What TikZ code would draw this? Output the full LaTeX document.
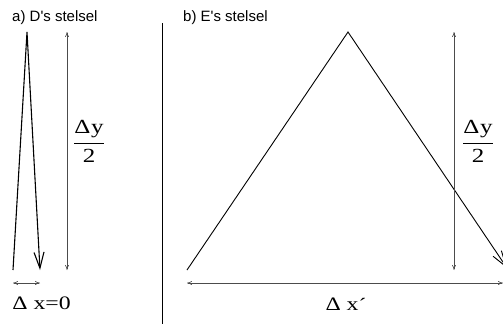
\documentclass[tikz,border=0pt]{standalone}
\usepackage{fontspec}
\setmainfont{Liberation Serif}
\newfontfamily\labfont{Liberation Sans}
\newfontfamily\wideserif[FakeStretch=1.25]{Liberation Serif}
\usetikzlibrary{arrows.meta}
\begin{document}
\begin{tikzpicture}[x=1pt,y=-1pt,
  title/.style={font=\labfont\fontsize{15}{18}\selectfont, anchor=base west, inner sep=0pt},
  mlabel/.style={font=\wideserif\fontsize{19}{22}\selectfont, inner sep=0pt, anchor=base},
  flabel/.style={font=\wideserif\fontsize{20}{24}\selectfont, inner sep=0pt, anchor=base},
  dim/.style={draw=black!70, line width=0.6pt, {To[length=5pt,width=4pt]}-{To[length=5pt,width=4pt]}},
  path/.style={draw=black, line width=0.9pt, line join=miter},
  bigtip/.style={-{Straight Barb[length=16pt,width=10pt]}}]
\useasboundingbox (0,0) rectangle (503,324);
% titles
\node[title] (ta) at (12,21.5) {a) D's stelsel};
\node[title] (tb) at (183,21.5) {b) E's stelsel};
% panel a
\coordinate (D0) at (13,270);
\coordinate (Dtop) at (27,32);
\coordinate (Dend) at (40,270);
\draw[path, line width=1.1pt, bigtip] (D0) -- (Dtop) -- (Dend);
\coordinate (Va1) at (67,32);
\coordinate (Va2) at (67,270);
\draw[dim] (Va1) -- (Va2);
\node[flabel] (fa) at (89,148) {$\displaystyle\frac{\mbox{Δ\hspace{0.04em}y}}{\mbox{2}}$};
\coordinate (Ha1) at (13,283);
\coordinate (Ha2) at (40,283);
\draw[dim] (Ha1) -- (Ha2);
\node[mlabel] (xa) at (41.5,309) {Δ x=0};
% divider
\coordinate (S1) at (162,23);
\coordinate (S2) at (162,324);
\draw[black, line width=0.8pt] (S1) -- (S2);
% panel b
\coordinate (E0) at (187,270);
\coordinate (Etop) at (348,32);
\coordinate (Eend) at (507,268);
\draw[path, bigtip] (E0) -- (Etop) -- (Eend);
\coordinate (Vb1) at (454,32);
\coordinate (Vb2) at (454,270);
\draw[dim] (Vb1) -- (Vb2);
\node[flabel] (fb) at (478,148) {$\displaystyle\frac{\mbox{Δ\hspace{0.04em}y}}{\mbox{2}}$};
\coordinate (Hb1) at (187,283);
\coordinate (Hb2) at (503,283);
\draw[dim] (Hb1) -- (Hb2);
\node[mlabel] (xb) at (346,310) {Δ x\raisebox{-1pt}{´}};
\end{tikzpicture}
\end{document}
